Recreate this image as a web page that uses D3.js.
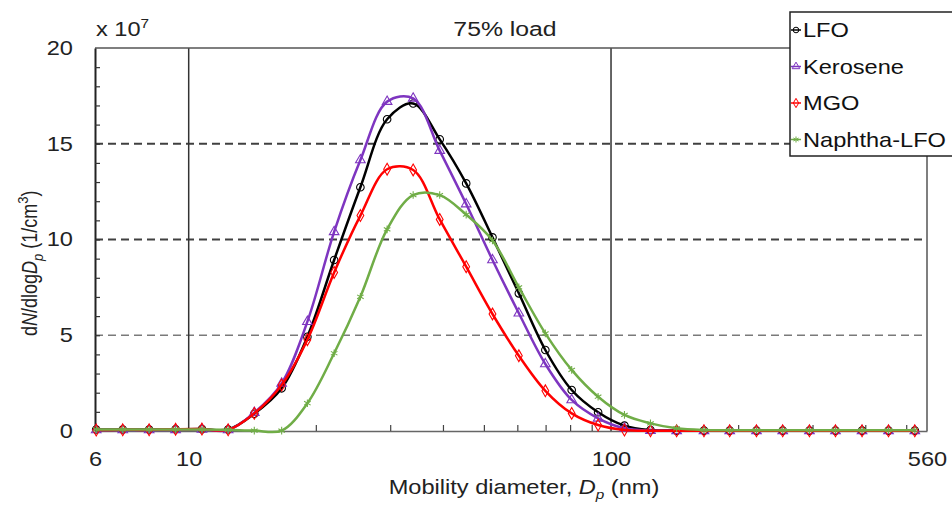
<!DOCTYPE html>
<html lang='en'>
<head>
    <meta charset='UTF-8'>
    <title>75% load</title>
    <style>
        body { margin: 0; background: #fff; }
        text { font-family: 'Liberation Sans', Arial, sans-serif; }
    </style>
</head>
<body>
    <div id='anchor'></div>
    <script src='https://cdnjs.cloudflare.com/ajax/libs/d3/7.8.5/d3.min.js'></script>
    <script>
        // mobility diameter bins (nm)
        const diameters = [6.04, 6.98, 8.06, 9.31, 10.75, 12.4, 14.3, 16.6, 19.1, 22.1, 25.5, 29.5, 34.0, 39.3, 45.4, 52.4,
            60.5, 69.9, 80.7, 93.2, 107.6, 124, 143, 166, 191, 221, 255, 295, 340, 393, 454, 524];

        // dN/dlogDp, x 10^7 1/cm3
        const lfo = [0.08, 0.08, 0.08, 0.09, 0.1, 0.08, 0.9, 2.23, 4.92, 8.93, 12.73, 16.28, 17.1, 15.23, 12.93, 10.11,
            7.19, 4.23, 2.14, 0.98, 0.28, 0.05, 0.02, 0.02, 0.02, 0.02, 0.02, 0.02, 0.02, 0.02, 0.02, 0.02];
        const kerosene = [0.05, 0.05, 0.05, 0.06, 0.08, 0.05, 0.96, 2.49, 5.71, 10.4, 14.15, 17.2, 17.37, 14.64, 11.85, 8.93,
            6.15, 3.5, 1.62, 0.66, 0.14, 0.02, 0.01, 0.01, 0.01, 0.01, 0.01, 0.01, 0.01, 0.01, 0.01, 0.01];
        const mgo = [0.05, 0.06, 0.06, 0.09, 0.1, 0.06, 0.92, 2.4, 4.77, 8.28, 11.25, 13.67, 13.63, 11.05, 8.58, 6.11,
            3.93, 2.1, 0.92, 0.31, 0.05, 0.01, 0.01, 0.01, 0.01, 0.01, 0.01, 0.01, 0.01, 0.01, 0.01, 0.01];
        const naphtha = [0.08, 0.08, 0.08, 0.08, 0.08, 0.06, 0.02, 0.02, 1.45, 4.06, 7.01, 10.53, 12.32, 12.32, 11.3, 9.95,
            7.5, 5.1, 3.19, 1.79, 0.84, 0.4, 0.14, 0.05, 0.04, 0.04, 0.04, 0.04, 0.04, 0.04, 0.04, 0.04];

        const seriesNames = ['LFO', 'Kerosene', 'MGO', 'Naphtha-LFO'];
        const seriesValues = [lfo, kerosene, mgo, naphtha];

        const xLabelTicks = [6, 10, 100, 560];
        const xMinorTicks = [20, 30, 40, 50, 60, 70, 80, 90, 200, 300, 400, 500];
        const xGridTicks = [10, 100];
        const yLabelTicks = [0, 5, 10, 15, 20];

        const colors = ['#000000', '#7e35c0', '#ff0000', '#70ad47'];
        const symbols = [d3.symbolCircle, d3.symbolTriangle, d3.symbolDiamond, d3.symbolAsterisk];

        const width = 952, height = 505;
        const margin = {top: 48, right: 25, bottom: 74, left: 95};
        // the source picture is a bit wider than tall, so text is stretched sideways
        const sx = 1.18;

        const svg = d3.select('#anchor').append('svg')
            .attr('width', width)
            .attr('height', height)
            .style('display', 'block');

        const x = d3.scaleLog().domain([6, 560]).range([margin.left, width - margin.right]);
        const y = d3.scaleLinear().domain([0, 20]).range([height - margin.bottom, margin.top]);

        // horizontal dashed grid
        svg.append('g')
            .selectAll('line')
            .data([5, 10, 15])
            .join('line')
            .attr('x1', x(6)).attr('x2', x(560))
            .attr('y1', d => y(d)).attr('y2', d => y(d))
            .attr('stroke', d => d === 5 ? '#7a7a7a' : '#404040')
            .attr('stroke-width', d => d === 5 ? 1.5 : 2)
            .attr('stroke-dasharray', '8,5');

        // vertical solid lines at 10 and 100
        svg.append('g')
            .selectAll('line')
            .data(xGridTicks)
            .join('line')
            .attr('x1', d => x(d)).attr('x2', d => x(d))
            .attr('y1', y(0)).attr('y2', y(20))
            .attr('stroke', '#333')
            .attr('stroke-width', 1.5);

        // frame: top and right
        svg.append('line')
            .attr('x1', x(6)).attr('x2', x(560))
            .attr('y1', y(20)).attr('y2', y(20))
            .attr('stroke', '#555').attr('stroke-width', 1.5);
        svg.append('line')
            .attr('x1', x(560)).attr('x2', x(560))
            .attr('y1', y(20)).attr('y2', y(0))
            .attr('stroke', '#555').attr('stroke-width', 1.5);

        // x axis
        const xAxis = svg.append('g')
            .attr('transform', `translate(0,${y(0)})`)
            .call(d3.axisBottom(x).tickValues(xLabelTicks).tickFormat(d3.format('d')).tickSize(0).tickPadding(21));
        xAxis.select('.domain').attr('stroke', '#666').attr('stroke-width', 1.5);
        xAxis.selectAll('text').attr('font-size', 20).attr('fill', '#222')
            .attr('transform', `scale(${sx},1)`)
            .style('font-family', "'Liberation Sans', Arial, sans-serif");

        const xMinor = svg.append('g')
            .attr('transform', `translate(0,${y(0)})`)
            .call(d3.axisBottom(x).tickValues(xMinorTicks).tickSize(-6).tickFormat(''));
        xMinor.select('.domain').remove();
        xMinor.selectAll('line').attr('stroke', '#444').attr('stroke-width', 1.2);

        // y axis
        const yAxis = svg.append('g')
            .attr('transform', `translate(${x(6)},0)`)
            .call(d3.axisLeft(y).tickValues(yLabelTicks).tickSize(0).tickPadding(22 / sx));
        yAxis.select('.domain').attr('stroke', '#222').attr('stroke-width', 2);
        yAxis.selectAll('text').attr('font-size', 20).attr('fill', '#222')
            .attr('transform', `scale(${sx},1)`)
            .style('font-family', "'Liberation Sans', Arial, sans-serif");

        const yMinor = svg.append('g')
            .attr('transform', `translate(${x(6)},0)`)
            .call(d3.axisLeft(y).tickValues(d3.range(1, 20)).tickSize(-5).tickFormat(''));
        yMinor.select('.domain').remove();
        yMinor.selectAll('line').attr('stroke', '#333').attr('stroke-width', 1.2);

        // series
        const line = d3.line()
            .x((d, i) => x(diameters[i]))
            .y(d => y(d))
            .curve(d3.curveCatmullRom.alpha(0.5));

        seriesValues.forEach((values, s) => {
            const g = svg.append('g');
            g.append('path')
                .datum(values)
                .attr('fill', 'none')
                .attr('stroke', colors[s])
                .attr('stroke-width', 2.5)
                .attr('d', line);
            g.selectAll('path.marker')
                .data(values)
                .join('path')
                .attr('class', 'marker')
                .attr('transform', (d, i) => `translate(${x(diameters[i])},${y(d)})`)
                .attr('d', d3.symbol().type(symbols[s]).size(s === 0 ? 45 : 40))
                .attr('fill', 'none')
                .attr('stroke', colors[s])
                .attr('stroke-width', 1.1);
        });

        // legend
        const legend = svg.append('g').attr('transform', 'translate(790,12)');
        legend.append('rect')
            .attr('width', 175).attr('height', 144)
            .attr('fill', '#fff').attr('stroke', '#222').attr('stroke-width', 1.5);
        seriesNames.forEach((name, s) => {
            const row = legend.append('g').attr('transform', `translate(0,${25 + s * 36.5})`);
            row.append('line')
                .attr('x1', 1).attr('x2', 11).attr('y1', -7).attr('y2', -7)
                .attr('stroke', colors[s]).attr('stroke-width', 1.5);
            row.append('path')
                .attr('transform', 'translate(6,-7)')
                .attr('d', d3.symbol().type(symbols[s]).size(25))
                .attr('fill', 'none').attr('stroke', colors[s]).attr('stroke-width', 1);
            row.append('text')
                .attr('transform', `translate(13,0) scale(${sx},1)`)
                .attr('font-size', 20).attr('fill', '#111')
                .text(name);
        });

        // titles
        svg.append('text')
            .attr('transform', `translate(505,36) scale(${sx},1)`)
            .attr('text-anchor', 'middle')
            .attr('font-size', 21).attr('fill', '#222')
            .text('75% load');

        const mult = svg.append('text')
            .attr('transform', `translate(96,36) scale(${sx},1)`)
            .attr('font-size', 20).attr('fill', '#222');
        mult.append('tspan').text('x 10');
        mult.append('tspan').attr('font-size', 13).attr('dy', -8).text('7');

        const xTitle = svg.append('text')
            .attr('transform', `translate(524,494) scale(${sx},1)`)
            .attr('text-anchor', 'middle')
            .attr('font-size', 20).attr('fill', '#222');
        xTitle.append('tspan').text('Mobility diameter, ');
        xTitle.append('tspan').attr('font-style', 'italic').text('D');
        xTitle.append('tspan').attr('font-style', 'italic').attr('font-size', 13).attr('dy', 5).text('p');
        xTitle.append('tspan').attr('dy', -5).text(' (nm)');

        const yTitle = svg.append('text')
            .attr('transform', `translate(37,336) rotate(-90) scale(1,${sx})`)
            .attr('text-anchor', 'start')
            .attr('font-size', 18).attr('fill', '#222');
        yTitle.append('tspan').text('d');
        yTitle.append('tspan').attr('font-style', 'italic').text('N');
        yTitle.append('tspan').text('/dlog');
        yTitle.append('tspan').attr('font-style', 'italic').text('D');
        yTitle.append('tspan').attr('font-style', 'italic').attr('font-size', 13).attr('dy', 5).text('p');
        yTitle.append('tspan').attr('dy', -5).text(' (1/cm');
        yTitle.append('tspan').attr('font-size', 13).attr('dy', -8).text('3');
        yTitle.append('tspan').attr('dy', 8).text(')');
    </script>
</body>
</html>
